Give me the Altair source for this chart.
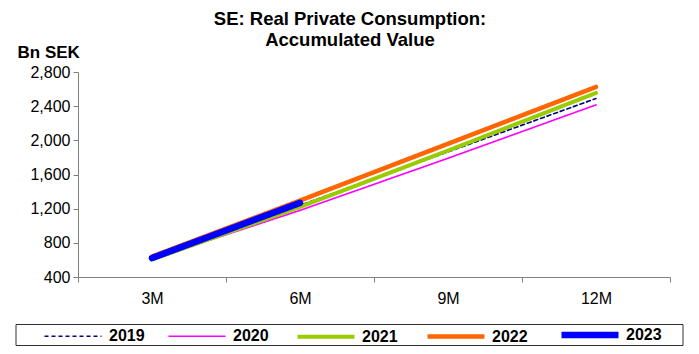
import altair as alt
import pandas as pd

periods = ["3M", "6M", "9M", "12M"]
years = ["2019", "2020", "2021", "2022", "2023"]
v2019 = [615, 1240, 1865, 2490]
v2020 = [610, 1180, 1790, 2415]
v2021 = [605, 1220, 1880, 2555]
v2022 = [640, 1295, 1960, 2625]
v2023 = [622, 1268]

colors = ["#000080", "#FF00FF", "#99CC00", "#FF6600", "#0000FF"]
widths = [1.6, 1.6, 4, 4.5, 6.5]
dashes = [[4, 3], [1, 0], [1, 0], [1, 0], [1, 0]]

rows = []
for y, vals in zip(years, [v2019, v2020, v2021, v2022, v2023]):
    for p, v in zip(periods, vals):
        rows.append({"period": p, "year": y, "value": v})
df = pd.DataFrame(rows)

FONT = "Liberation Sans"

lines = alt.Chart(df).mark_line(strokeCap="round").encode(
    x=alt.X("period:N", sort=periods, title=None,
            scale=alt.Scale(type="band", paddingInner=0, paddingOuter=0),
            axis=alt.Axis(tickBand="extent", labelAngle=0, labelFontSize=16,
                          labelFont=FONT, labelColor="black", labelPadding=8,
                          tickSize=5, domainColor="#808080", tickColor="#808080",
                          grid=False)),
    y=alt.Y("value:Q", title="Bn SEK",
            scale=alt.Scale(domain=[400, 2800], nice=False, zero=False),
            axis=alt.Axis(values=[400, 800, 1200, 1600, 2000, 2400, 2800], format=",.0f",
                          labelFontSize=16, labelFont=FONT, labelColor="black",
                          labelPadding=3, tickSize=5, domainColor="#808080",
                          tickColor="#808080", grid=False,
                          titleAngle=0, titleX=-61, titleY=-20, titleAlign="left",
                          titleBaseline="middle", titleFont=FONT, titleFontSize=17,
                          titleFontWeight="bold", titleColor="black")),
    color=alt.Color("year:O", scale=alt.Scale(type="ordinal", domain=years, range=colors),
                    legend=alt.Legend(title=None, orient="none", legendX=-37, legendY=231,
                                      direction="horizontal", columns=5,
                                      symbolType="stroke", symbolSize=3249,
                                      labelFont=FONT, labelFontSize=16,
                                      labelFontWeight="bold", labelColor="black",
                                      labelOffset=4, columnPadding=20, padding=0)),
    strokeWidth=alt.StrokeWidth("year:O", scale=alt.Scale(type="ordinal", domain=years, range=widths)),
    strokeDash=alt.StrokeDash("year:O", scale=alt.Scale(type="ordinal", domain=years, range=dashes)),
    order=alt.Order("period_idx:Q"),
).transform_calculate(
    period_idx="indexof(['3M','6M','9M','12M'], datum.period)"
)

box = alt.Chart(pd.DataFrame({"a": [0]})).mark_rect(
    fill=None, stroke="#303030", strokeWidth=1
).encode(x=alt.value(-62), x2=alt.value(605), y=alt.value(252.5), y2=alt.value(273.5))

chart = alt.layer(lines, box).properties(
    width=592, height=205,
    autosize=alt.AutoSizeParams(type="none"),
    padding={"left": 70, "top": 64, "right": 21, "bottom": 69},
    title=alt.Title(["SE: Real Private Consumption:", "Accumulated Value"],
                    font=FONT, fontSize=18.5, fontWeight="bold", color="black",
                    anchor="middle", offset=8, dy=14, dx=-24, lineHeight=21),
).configure_view(stroke=None)

chart.save("out.html", embed_options={"renderer": "svg", "actions": False})
